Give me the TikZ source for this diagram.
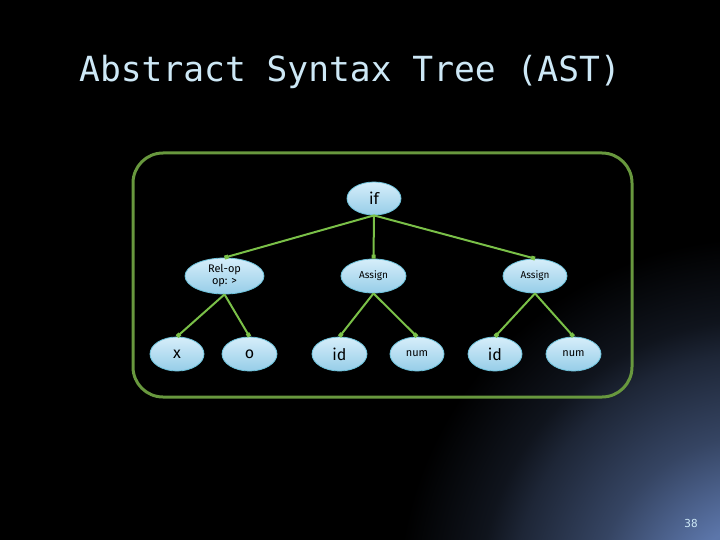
\documentclass[tikz,border=0pt]{standalone}
\usepackage{fontspec}
\setmainfont{Fira Sans}
\newfontfamily\titlefont{DejaVu Sans Mono}
\usetikzlibrary{shapes.geometric,arrows.meta}
\definecolor{bgblue}{RGB}{92,118,170}
\definecolor{frame}{RGB}{104,152,62}
\definecolor{edgegreen}{RGB}{122,192,72}
\definecolor{nodetop}{RGB}{214,238,250}
\definecolor{nodebot}{RGB}{150,205,232}
\definecolor{nodeborder}{RGB}{110,195,220}
\definecolor{titleblue}{RGB}{205,232,246}
\pgfdeclareradialshading{bgshade}{\pgfpoint{0bp}{0bp}}{color(0bp)=(bgblue); color(3.2bp)=(bgblue); color(6.9bp)=(bgblue!58!black); color(10.3bp)=(bgblue!32!black); color(11.7bp)=(bgblue!17!black); color(15.1bp)=(black); color(50bp)=(black)}
\tikzset{
  astnode/.style={ellipse, draw=nodeborder, line width=0.8pt, top color=nodetop, bottom color=nodebot, inner sep=0pt, text=black},
  astedge/.style={draw=edgegreen, line width=2pt, -{Square[length=4pt,width=4pt]}},
}
\begin{document}
\begin{tikzpicture}[x=1pt,y=-1pt]
\useasboundingbox (0,0) rectangle (720,540);
\fill[black] (0,0) rectangle (720,540);
\begin{scope}
\clip (0,0) rectangle (720,540);
\shade[shading=bgshade] (760,600) circle (600);
\end{scope}
\node[anchor=base west, text=titleblue, font=\titlefont\fontsize{34.6}{40}\selectfont, inner sep=0pt] (title) at (79,82) {Abstract Syntax Tree (AST)};
\draw[frame, line width=3pt, rounded corners=30pt] (133,153) rectangle (632,397);
\node[astnode, minimum width=54pt, minimum height=33pt, font=\fontsize{16}{18}\selectfont] (if) at (374,198.5) {if};
\node[astnode, minimum width=79pt, minimum height=36pt, font=\fontsize{11}{12}\selectfont, align=center] (relop) at (224.5,276) {Rel-op\\op: >};
\node[astnode, minimum width=65pt, minimum height=34pt, font=\fontsize{10}{12}\selectfont] (as1) at (373.5,276) {Assign};
\node[astnode, minimum width=64pt, minimum height=34pt, font=\fontsize{10}{12}\selectfont] (as2) at (535,276) {Assign};
\node[astnode, minimum width=54pt, minimum height=34pt, font=\fontsize{16}{18}\selectfont] (x) at (177,354) {x};
\node[astnode, minimum width=55pt, minimum height=34pt, font=\fontsize{16}{18}\selectfont] (o) at (249.5,354) {o};
\node[astnode, minimum width=55pt, minimum height=34pt, font=\fontsize{16}{18}\selectfont] (id1) at (339.5,354) {id};
\node[astnode, minimum width=54pt, minimum height=34pt, font=\fontsize{11}{12}\selectfont] (num1) at (417,354) {num};
\node[astnode, minimum width=54pt, minimum height=34pt, font=\fontsize{16}{18}\selectfont] (id2) at (495,354) {id};
\node[astnode, minimum width=55pt, minimum height=34pt, font=\fontsize{11}{12}\selectfont] (num2) at (573.5,354) {num};
\draw[astedge] (if.south) -- (relop.north);
\draw[astedge] (if.south) -- (as1.north);
\draw[astedge] (if.south) -- (as2.north);
\draw[astedge] (relop.south) -- (x.north);
\draw[astedge] (relop.south) -- (o.north);
\draw[astedge] (as1.south) -- (id1.north);
\draw[astedge] (as1.south) -- (num1.north);
\draw[astedge] (as2.south) -- (id2.north);
\draw[astedge] (as2.south) -- (num2.north);
\node[anchor=base, text=titleblue, font=\titlefont\fontsize{11}{12}\selectfont, inner sep=0pt] (pg) at (691,527) {38};
\end{tikzpicture}
\end{document}
